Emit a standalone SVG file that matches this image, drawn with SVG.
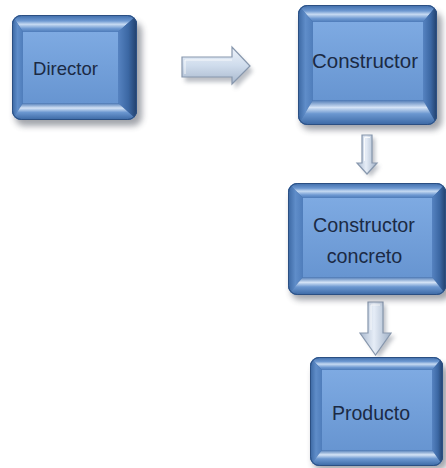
<svg xmlns="http://www.w3.org/2000/svg" width="446" height="468" viewBox="0 0 446 468">
  <defs>
    <style>
      .shadow { fill: #303846; opacity: 0.45; filter: url(#soft); }
      .base { fill: #3c69a6; }
      .face { fill: url(#gFace); }
      .bt { fill: url(#gTop); }
      .bb { fill: url(#gBottom); }
      .bl { fill: url(#gLeft); }
      .br { fill: url(#gRight); }
      .rim { fill: none; stroke: #2b4f82; stroke-width: 1; }
      .label { font-family: "Liberation Sans", Arial, sans-serif; fill: #1b2a44; text-anchor: middle; }
      .arrow { fill: url(#gArrow); stroke: #8797ad; stroke-width: 1.2; stroke-linejoin: miter; }
      .arrowShadow { fill: #6b7280; opacity: 0.45; filter: url(#soft2); }
      .arrowInner { fill: none; stroke: #ffffff; stroke-width: 1; opacity: 0.8; }
    </style>
    <filter id="soft" x="-20%" y="-20%" width="140%" height="140%">
      <feGaussianBlur stdDeviation="3"/>
    </filter>
    <filter id="soft2" x="-30%" y="-30%" width="160%" height="160%">
      <feGaussianBlur stdDeviation="2"/>
    </filter>
    <linearGradient id="gFace" x1="0" y1="0" x2="0" y2="1">
      <stop offset="0" stop-color="#7eaae2"/>
      <stop offset="1" stop-color="#6795d1"/>
    </linearGradient>
    <linearGradient id="gTop" x1="0" y1="0" x2="0" y2="1">
      <stop offset="0" stop-color="#3d6ba8"/>
      <stop offset="0.35" stop-color="#6d98d1"/>
      <stop offset="0.55" stop-color="#c6daf2"/>
      <stop offset="0.8" stop-color="#6e99d2"/>
      <stop offset="1" stop-color="#4d7bb9"/>
    </linearGradient>
    <linearGradient id="gBottom" x1="0" y1="0" x2="0" y2="1">
      <stop offset="0" stop-color="#4a77b4"/>
      <stop offset="0.3" stop-color="#d4e3f6"/>
      <stop offset="0.55" stop-color="#6b97d0"/>
      <stop offset="1" stop-color="#3a67a3"/>
    </linearGradient>
    <linearGradient id="gLeft" x1="0" y1="0" x2="1" y2="0">
      <stop offset="0" stop-color="#3a66a1"/>
      <stop offset="0.5" stop-color="#5f8dc9"/>
      <stop offset="1" stop-color="#4f7dbb"/>
    </linearGradient>
    <linearGradient id="gRight" x1="0" y1="0" x2="1" y2="0">
      <stop offset="0" stop-color="#5683c1"/>
      <stop offset="0.55" stop-color="#3b67a3"/>
      <stop offset="1" stop-color="#213f6a"/>
    </linearGradient>
    <linearGradient id="gArrow" x1="0" y1="0" x2="0" y2="1">
      <stop offset="0" stop-color="#eef3fa"/>
      <stop offset="0.5" stop-color="#cfdcec"/>
      <stop offset="1" stop-color="#a8b8cd"/>
    </linearGradient>
    <linearGradient id="gArrowV" x1="0" y1="0" x2="1" y2="0">
      <stop offset="0" stop-color="#a9b9ce"/>
      <stop offset="0.45" stop-color="#e6edf7"/>
      <stop offset="1" stop-color="#9fb0c6"/>
    </linearGradient>
    <clipPath id="cDirector"><rect x="12" y="15" width="125" height="105" rx="9"/></clipPath>
    <clipPath id="cConstructor"><rect x="298" y="5" width="139" height="120" rx="9"/></clipPath>
    <clipPath id="cConcreto"><rect x="288" y="183" width="158" height="112" rx="9"/></clipPath>
    <clipPath id="cProducto"><rect x="310" y="357" width="133" height="109" rx="9"/></clipPath>
  </defs>

  <!-- block arrows between the stages -->
  <g id="connectors">
    <polygon class="arrowShadow" points="185,62 235,62 235,52 253,71 235,89 235,82 185,82"/>
    <polygon class="arrow" points="182,57 232,57 232,47 250,66 232,84 232,77 182,77"/>
    <polyline class="arrowInner" points="185,74 185,60 232,60"/>

    <polygon class="arrowShadow" points="365,138 375,138 375,166 380,166 370.5,177 361,166 365,166"/>
    <polygon class="arrow" style="fill:url(#gArrowV)" points="362,135 372,135 372,163 377,163 367,174 357,163 362,163"/>
    <polyline class="arrowInner" points="364.5,161 364.5,137.5 370,137.5"/>

    <polygon class="arrowShadow" points="371,305 386,305 386,336 395,336 379,358 364,336 371,336"/>
    <polygon class="arrow" style="fill:url(#gArrowV)" points="368,302 383,302 383,333 391,333 375.5,355 360,333 368,333"/>
    <polyline class="arrowInner" points="371,330 371,305 380,305"/>
  </g>

  <!-- Director -->
  <g id="director">
    <rect class="shadow" x="15" y="22" width="127" height="104" rx="9"/>
    <g clip-path="url(#cDirector)">
      <rect class="base" x="12" y="15" width="125" height="105"/>
      <polygon class="bt" points="12,15 137,15 118,32 23,32"/>
      <polygon class="bl" points="12,15 23,32 23,103 12,120"/>
      <polygon class="br" points="137,15 137,120 118,103 118,32"/>
      <polygon class="bb" points="23,103 118,103 137,120 12,120"/>
      <rect class="face" x="23" y="32" width="95" height="71"/>
    </g>
    <rect class="rim" x="12.5" y="15.5" width="124" height="104" rx="9"/>
    <text class="label" x="65.5" y="75" font-size="18.5">Director</text>
  </g>

  <!-- Constructor -->
  <g id="constructor">
    <rect class="shadow" x="301" y="12" width="141" height="118" rx="9"/>
    <g clip-path="url(#cConstructor)">
      <rect class="base" x="298" y="5" width="139" height="120"/>
      <polygon class="bt" points="298,5 437,5 423,22 313,22"/>
      <polygon class="bl" points="298,5 313,22 313,100 298,125"/>
      <polygon class="br" points="437,5 437,125 423,100 423,22"/>
      <polygon class="bb" points="313,100 423,100 437,125 298,125"/>
      <rect class="face" x="313" y="22" width="110" height="78"/>
    </g>
    <rect class="rim" x="298.5" y="5.5" width="138" height="119" rx="9"/>
    <text class="label" x="365" y="68" font-size="20.5">Constructor</text>
  </g>

  <!-- Constructor concreto -->
  <g id="constructor-concreto">
    <rect class="shadow" x="291" y="190" width="160" height="110" rx="9"/>
    <g clip-path="url(#cConcreto)">
      <rect class="base" x="288" y="183" width="158" height="112"/>
      <polygon class="bt" points="288,183 446,183 432,198 303,198"/>
      <polygon class="bl" points="288,183 303,198 303,277 288,295"/>
      <polygon class="br" points="446,183 446,295 432,277 432,198"/>
      <polygon class="bb" points="303,277 432,277 446,295 288,295"/>
      <rect class="face" x="303" y="198" width="129" height="79"/>
    </g>
    <rect class="rim" x="288.5" y="183.5" width="157" height="111" rx="9"/>
    <text class="label" x="364" y="232" font-size="19.7">Constructor</text>
    <text class="label" x="364.5" y="263" font-size="19.7">concreto</text>
  </g>

  <!-- Producto -->
  <g id="producto">
    <rect class="shadow" x="313" y="364" width="135" height="106" rx="9"/>
    <g clip-path="url(#cProducto)">
      <rect class="base" x="310" y="357" width="133" height="109"/>
      <polygon class="bt" points="310,357 443,357 432,370 322,370"/>
      <polygon class="bl" points="310,357 322,370 322,450 310,466"/>
      <polygon class="br" points="443,357 443,466 432,450 432,370"/>
      <polygon class="bb" points="322,450 432,450 443,466 310,466"/>
      <rect class="face" x="322" y="370" width="110" height="80"/>
    </g>
    <rect class="rim" x="310.5" y="357.5" width="132" height="108" rx="9"/>
    <text class="label" x="371" y="420" font-size="19.5">Producto</text>
  </g>
</svg>
